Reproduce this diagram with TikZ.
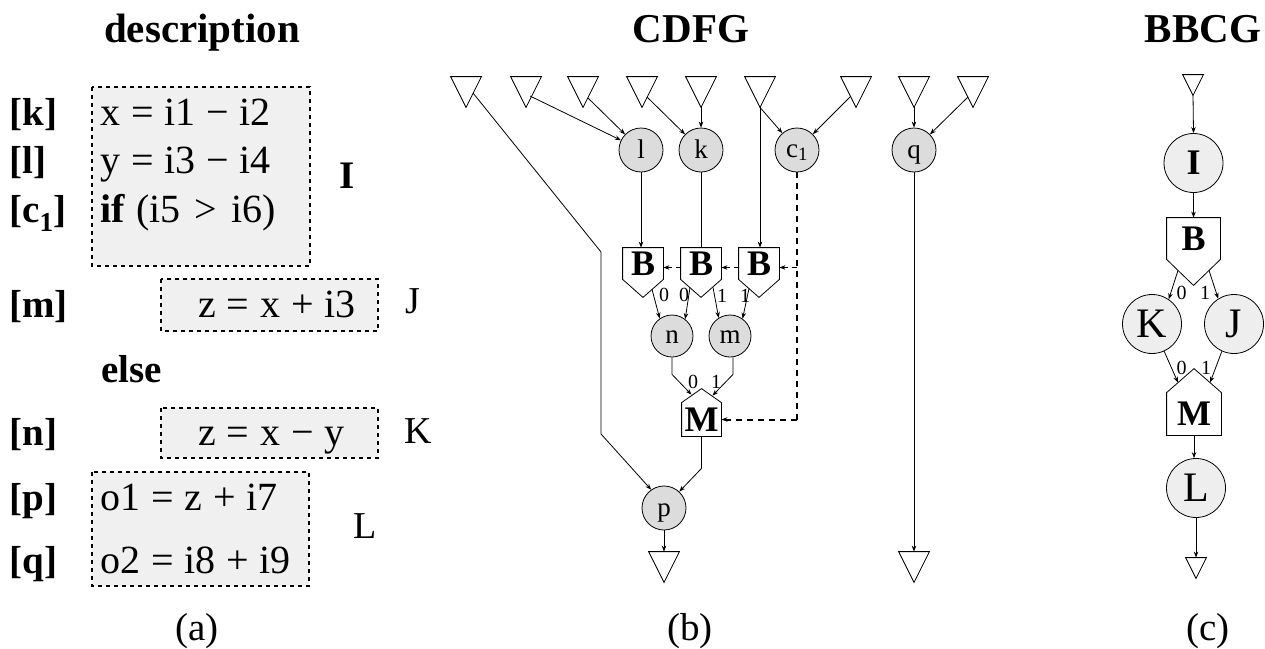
\documentclass[tikz,border=0pt]{standalone}
\usepackage{fontspec}
\setmainfont{Liberation Serif}
\usetikzlibrary{arrows.meta,calc}
\definecolor{cfill}{HTML}{DCDCDC}
\definecolor{bfill}{HTML}{F0F0F0}
\definecolor{kfill}{HTML}{EEEEEE}
\newcommand\myfs[1]{\fontsize{#1}{#1}\selectfont}
\newcommand\gap{\hspace{0.27em}}
\begin{document}
\begin{tikzpicture}[x=1pt,y=-1pt, line width=0.8pt,
  arr/.style={-{Stealth[length=6pt,width=4.5pt]}},
  tnode/.style={inner sep=0pt, minimum width=30pt, minimum height=30pt},
  stnode/.style={inner sep=0pt, minimum width=20pt, minimum height=20pt},
  opc/.style={circle, draw, fill=cfill, inner sep=0pt, minimum size=44pt, font=\myfs{27}, text height=17pt, text depth=0pt},
  blk/.style={circle, draw, fill=kfill, inner sep=0pt, minimum size=59pt, font=\myfs{42}},
  brect/.style={inner sep=0pt, font=\myfs{36}\bfseries},
  lbl/.style={font=\myfs{20}, inner sep=0pt},
  codetxt/.style={anchor=base west, inner sep=0pt, font=\myfs{40}},
  tagtxt/.style={anchor=base west, inner sep=0pt, font=\myfs{39}\bfseries},
  grptxt/.style={anchor=base west, inner sep=0pt, font=\myfs{38}},
  titletxt/.style={anchor=base, inner sep=0pt, font=\myfs{41}\bfseries},
  captxt/.style={anchor=base, inner sep=0pt, font=\myfs{39}},
  codebox/.style={draw, fill=bfill, dash pattern=on 4pt off 4pt, line width=1.5pt},
  ctrl/.style={dash pattern=on 6pt off 5pt, line width=2pt},
  ctrlthin/.style={dash pattern=on 5pt off 4pt, line width=0.8pt}
]
\useasboundingbox (0,0) rectangle (1265,648);

% ---------- titles ----------
\node[titletxt] (t-desc) at (202,42) {description};
\node[titletxt] (t-cdfg) at (691,42) {CDFG};
\node[titletxt] (t-bbcg) at (1203,42) {BBCG};
\node[captxt] (cap-a) at (197,640) {(a)};
\node[captxt] (cap-b) at (690,640) {(b)};
\node[captxt] (cap-c) at (1208,640) {(c)};

% ---------- (a) description ----------
\draw[codebox] (92,87) rectangle (310,266);
\draw[codebox] (161,279) rectangle (378,331);
\draw[codebox] (161,408) rectangle (378,458);
\draw[codebox] (92,472) rectangle (309,586);

\node[tagtxt] (tk) at (9,125) {[k]};
\node[tagtxt] (tl) at (9,173) {[l]};
\node[tagtxt] (tc) at (9,222) {[c\textsubscript{1}]};
\node[tagtxt] (tm) at (9,317) {[m]};
\node[tagtxt] (telse) at (101,382) {else};
\node[tagtxt] (tn) at (9,445) {[n]};
\node[tagtxt] (tp) at (9,510) {[p]};
\node[tagtxt] (tq) at (9,573) {[q]};

\node[codetxt] (ck) at (100,125) {x\gap=\gap i1\gap−\gap i2};
\node[codetxt] (cl) at (100,173) {y\gap=\gap i3\gap−\gap i4};
\node[codetxt] (cc) at (100,222) {\textbf{if}\gap(i5\hspace{0.35em}>\hspace{0.35em}i6)};
\node[codetxt] (cm) at (198,317) {z\gap=\gap x\gap+\gap i3};
\node[codetxt] (cn) at (198,445) {z\gap=\gap x\gap−\gap y};
\node[codetxt] (cp) at (100,510) {o1\gap=\gap z\gap+\gap i7};
\node[codetxt] (cq) at (100,573) {o2\gap=\gap i8\gap+\gap i9};

\node[tagtxt] (lI) at (339,188) {I};
\node[grptxt] (lJ) at (405,313) {J};
\node[grptxt] (lK) at (404,443) {K};
\node[grptxt] (lL) at (353,538) {L};

% ---------- (b) CDFG ----------
\foreach \n/\x in {T1/466,T2/526,T3/583,T4/642,T5/701,T6/760,T7/856,T8/914,T9/973}
  {\node[tnode] (\n) at (\x,92) {};}
\node[tnode] (Tp) at (664,567) {};
\node[tnode] (Tq) at (914,567) {};
\foreach \n in {T1,T2,T3,T4,T5,T6,T7,T8,T9,Tp,Tq}
  {\draw (\n.north west) -- (\n.north east) -- (\n.south) -- cycle;}

\node[opc] (l) at (641,150) {l};
\node[opc] (k) at (701,150) {k};
\node[opc, text height=14pt] (c1) at (797,150) {c\textsubscript{1}};
\node[opc] (q) at (914,150) {q};
\node[opc, minimum size=42pt, text height=15pt] (n) at (672,336) {n};
\node[opc, minimum size=42pt, text height=15pt] (m) at (730,336) {m};
\node[opc] (p) at (664,508) {p};

\foreach \n/\x in {B1/643,B2/701,B3/759}{
  \node[brect, minimum width=40pt, minimum height=31pt] (\n) at (\x,263.5) {B};
  \draw (\n.north west) -- (\n.north east) -- (\n.south east) -- ([yshift=-18pt]\n.south) -- (\n.south west) -- cycle;
}
\node[brect, minimum width=39pt, minimum height=33pt] (M1) at (701.5,419.5) {M};
\draw (M1.south west) -- (M1.south east) -- (M1.north east) -- ([yshift=14pt]M1.north) -- (M1.north west) -- cycle;

% inputs
\draw[arr] ([shift={(4,4)}]T2.center) -- (l);
\draw[arr] ([shift={(5,6)}]T3.center) -- (l);
\draw[arr] ([shift={(5,5)}]T4.center) -- (k);
\draw[arr] (T5.south) -- (k);
\draw[arr] (T6.south) -- (c1);
\draw[arr] ([shift={(-6,5)}]T7.center) -- (c1);
\draw[arr] (T8.south) -- (q);
\draw[arr] ([shift={(-5,5)}]T9.center) -- (q);
\draw[arr] (T6.south) -- (T6.south |- B3.north);
\coordinate (bend1) at (601,252);
\coordinate (bend2) at (601,434);
\draw[arr] ([shift={(7,1)}]T1.center) -- (bend1) -- (bend2) -- (p.125);

% ops to branches
\draw[arr] (l.south) -- (l.south |- B1.north);
\draw (k.south) -- (B2.north);

% control (dashed)
\draw[ctrl] (c1.south) -- (c1.south |- M1.east);
\draw[ctrl, arr] (c1.south |- M1.east) -- (M1.east);
\draw[ctrlthin, arr] ([yshift=-4pt]B3.east -| c1.south) -- ([yshift=-4pt]B3.east);
\draw[ctrlthin, arr] ([yshift=-4pt]B3.west) -- ([yshift=-4pt]B2.east);
\draw[ctrlthin, arr] ([yshift=-4pt]B2.west) -- ([yshift=-4pt]B1.east);

% branches to n, m
\draw[arr] ([shift={(9,10)}]B1.south) -- (n.125);
\draw[arr] ([shift={(-11,8)}]B2.south) -- (n.52);
\draw[arr] ([shift={(12,8)}]B2.south) -- (m.122);
\draw[arr] ([shift={(-10,9)}]B3.south) -- (m.54);
\node[lbl] (l0a) at (664,295) {0};
\node[lbl] (l0b) at (684,295) {0};
\node[lbl] (l1a) at (722,296) {1};
\node[lbl] (l1b) at (745,296) {1};

% n, m to merge
\draw[arr] (n.south) -- ++(0,17) -- ([shift={(-10,-8)}]M1.north);
\draw[arr] ([xshift=3pt]m.south) -- ++(0,17) -- ([shift={(11,-7)}]M1.north);
\node[lbl] (l0c) at (693,382) {0};
\node[lbl] (l1c) at (716,382) {1};

% merge to p
\draw[arr] (M1.south) -- ++(0,32) -- (p.47);
\draw[arr] (p.south) -- (Tp.north);
\draw[arr] (q.south) -- (Tq.north);

% ---------- (c) BBCG ----------
\node[stnode] (Tb) at (1193,85) {};
\node[stnode] (Tb2) at (1196,568) {};
\foreach \n in {Tb,Tb2}
  {\draw (\n.north west) -- (\n.north east) -- (\n.south) -- cycle;}

\node[blk, font=\myfs{36}\bfseries] (I) at (1193.5,163) {I};
\node[blk] (K) at (1152,324) {K};
\node[blk] (J) at (1234,324) {J};
\node[blk] (L) at (1196,488) {L};

\node[brect, minimum width=53pt, minimum height=41pt] (Bb) at (1193.5,238.5) {B};
\draw (Bb.north west) -- (Bb.north east) -- (Bb.south east) -- ([yshift=-26pt]Bb.south) -- (Bb.south west) -- cycle;
\node[brect, minimum width=54pt, minimum height=42pt] (Mb) at (1194,414) {M};
\draw (Mb.south west) -- (Mb.south east) -- (Mb.north east) -- ([yshift=24pt]Mb.north) -- (Mb.north west) -- cycle;

\draw[arr] (Tb.south) -- (I.north);
\draw[arr] (I.south) -- (Bb.north);
\draw[arr] ([shift={(-15.5,11)}]Bb.south) -- (K.56);
\draw[arr] ([shift={(15.5,11)}]Bb.south) -- (J.122);
\node[lbl] (b0a) at (1181.5,293) {0};
\node[lbl] (b1a) at (1205,293) {1};
\draw[arr] (K.-66) -- ([shift={(-16,-10)}]Mb.north);
\draw[arr] (J.246) -- ([shift={(16,-10)}]Mb.north);
\node[lbl] (b0b) at (1181.5,368) {0};
\node[lbl] (b1b) at (1206,368) {1};
\draw[arr] (Mb.south) -- (Mb.south |- L.north);
\draw[arr] (L.south) -- (Tb2.north);
\end{tikzpicture}
\end{document}
